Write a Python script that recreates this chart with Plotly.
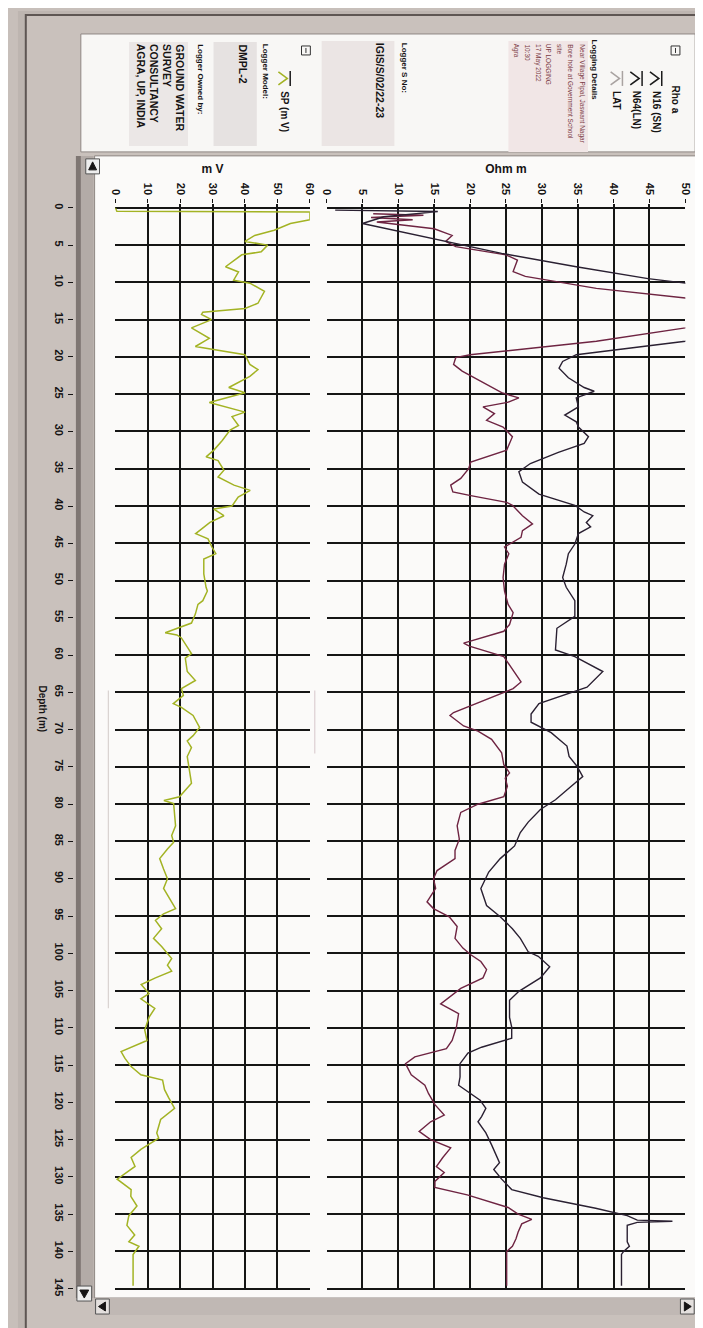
import plotly.graph_objects as go

W, H = 703, 1328

# ---------------- data ----------------
sp_depth = [0.0, 0.45, 0.55, 1.6, 2.1, 3.0, 3.7, 4.5, 5.0, 5.9, 6.3, 7.9, 8.6, 9.7, 10.1, 11.2, 12.8, 13.5,
            14.0, 14.3, 15.0, 16.1, 17.5, 18.6, 19.7, 21.0, 21.7, 22.6, 24.1, 24.8, 26.1, 27.4, 28.0, 29.2,
            29.8, 31.2, 32.5, 33.4, 33.9, 35.2, 36.1, 37.2, 37.9, 38.8, 40.0, 40.4, 41.3, 42.2, 43.7, 44.4,
            45.5, 46.4, 47.1, 49.1, 50.9, 51.4, 52.7, 53.2, 54.5, 55.7, 57.0, 57.3, 57.7, 59.8, 60.4, 62.2,
            63.4, 64.5, 65.4, 66.5, 67.0, 68.1, 69.7, 70.8, 71.5, 72.4, 73.6, 75.4, 77.2, 79.0, 79.5, 79.9,
            82.9, 84.2, 85.1, 86.0, 87.3, 88.7, 90.0, 91.3, 92.7, 94.0, 94.7, 95.6, 96.7, 98.0, 99.1, 100.7,
            101.6, 102.4, 103.3, 104.2, 105.4, 106.1, 107.4, 108.6, 110.3, 111.7, 113.2, 114.1, 115.2, 116.3,
            117.0, 118.3, 119.4, 120.8, 122.3, 124.1, 124.8, 126.3, 127.4, 128.6, 130.3, 131.7, 132.6, 133.9,
            135.2, 136.5, 137.8, 138.7, 139.3, 140.4, 144.6]
sp_mv = [0.0, 0.5, 60.0, 60.0, 54.0, 49.0, 43.0, 40.0, 47.0, 45.0, 39.0, 34.0, 38.0, 36.5, 41.5, 46.0, 44.0, 40.0,
         27.0, 26.6, 29.7, 23.5, 29.0, 24.7, 40.0, 41.5, 44.0, 41.5, 35.0, 40.0, 29.0, 40.0, 36.0, 38.0,
         35.4, 33.0, 30.4, 28.0, 31.7, 33.5, 31.7, 36.6, 41.6, 37.9, 36.0, 30.4, 33.5, 29.2, 24.8, 28.6,
         29.8, 31.0, 27.3, 27.3, 28.0, 28.4, 27.0, 25.5, 24.7, 23.5, 15.4, 19.0, 20.4, 23.5, 21.6, 22.2,
         24.7, 20.4, 21.0, 17.9, 20.4, 24.0, 26.0, 24.0, 22.2, 23.5, 22.2, 22.8, 23.5, 19.8, 15.0, 18.0,
         18.6, 17.4, 18.0, 16.1, 13.7, 14.9, 16.1, 14.9, 16.8, 18.6, 14.9, 12.4, 14.3, 11.8, 14.3, 17.4,
         16.1, 17.4, 12.4, 8.0, 10.4, 7.9, 12.2, 10.4, 9.1, 9.8, 1.8, 3.0, 4.9, 7.9,
         14.6, 15.2, 16.5, 18.3, 14.0, 12.8, 13.4, 7.9, 4.9, 6.1, 0.6, 4.9, 4.8, 6.7,
         4.2, 3.6, 6.0, 4.2, 7.3, 5.5, 5.5]

n16_depth = [0.8, 1.0, 1.3, 1.6, 1.9, 2.8, 3.7, 4.5, 5.2, 6.3, 7.0, 8.55, 9.2, 10.8, 12.1, 14.0, 16.1, 17.9,
             19.7, 20.1, 21.0, 21.9, 24.8, 25.5, 26.1, 26.7, 27.6, 28.5, 29.4, 30.7, 32.5, 34.1, 35.0, 36.3,
             37.2, 38.1, 38.6, 39.5, 39.9, 41.3, 42.4, 43.3, 44.2, 45.5, 46.4, 47.8, 49.6, 51.4, 53.2, 54.3,
             55.9, 56.8, 58.4, 58.8, 60.2, 63.6, 64.5, 66.3, 67.7, 68.1, 69.5, 70.2, 71.3, 73.1, 74.7, 75.8,
             76.5, 77.6, 79.0, 80.0, 81.1, 82.9, 84.7, 86.2, 87.3, 88.9, 90.0, 91.3, 93.1, 94.0, 95.1, 96.4,
             98.0, 99.3, 100.2, 101.1, 102.2, 103.3, 104.7, 106.8, 108.1, 109.9, 111.7, 112.8, 113.9, 114.8,
             116.3, 117.7, 118.8, 120.3, 121.7, 122.6, 123.9, 125.0, 126.1, 127.4, 128.6, 129.4, 130.6, 131.4,
             132.4, 134.1, 135.0, 135.7, 136.3, 137.4, 138.3, 139.3, 140.0, 144.6]
n16_ohm = [6.5, 13.5, 6.2, 12.0, 7.0, 15.0, 17.5, 16.6, 18.0, 25.0, 26.6, 26.0, 27.7, 37.6, 50.0, 62.0, 50.0, 37.6,
           20.0, 18.0, 17.7, 18.9, 24.4, 26.8, 25.2, 21.8, 23.4, 22.3, 24.6, 25.9, 25.1, 20.1, 19.8, 18.7,
           17.3, 17.6, 20.1, 25.1, 25.9, 27.3, 28.7, 27.3, 27.1, 24.8, 25.4, 24.8, 24.6, 24.8, 25.3, 26.0,
           25.5, 24.7, 19.1, 19.9, 24.7, 27.1, 26.0, 21.3, 17.7, 17.2, 19.1, 21.1, 23.0, 24.4, 24.7, 25.5,
           24.9, 25.2, 24.7, 21.1, 18.7, 18.2, 18.5, 17.9, 17.9, 15.4, 14.9, 15.2, 14.0, 14.9, 17.1, 18.2,
           17.9, 19.0, 20.1, 21.5, 22.3, 21.8, 18.7, 15.9, 18.4, 18.1, 17.5, 16.7, 12.3, 11.0,
           11.8, 13.7, 14.2, 15.1, 16.4, 14.5, 12.9, 14.5, 17.3, 16.2, 15.3, 16.4, 15.1, 15.1,
           19.6, 25.3, 26.7, 28.6, 27.2, 26.7, 26.4, 25.9, 25.1, 25.1]

n64_depth = [0.3, 0.5, 1.2, 2.1, 6.1, 7.9, 9.5, 10.1, 14.0, 17.9, 19.7, 20.6, 21.5, 22.8, 24.1, 24.6, 25.5, 26.7,
             27.8, 28.7, 29.4, 30.7, 31.6, 32.8, 34.3, 35.4, 36.8, 38.4, 39.9, 40.8, 41.3, 42.2, 42.8, 43.7,
             45.1, 46.4, 47.8, 49.6, 50.9, 52.7, 54.8, 56.4, 59.3, 60.2, 62.2, 64.3, 66.5, 67.9, 69.0, 70.4,
             72.2, 73.6, 74.9, 76.3, 77.6, 79.4, 80.7, 82.4, 83.8, 85.6, 87.3, 89.1, 91.3, 93.6, 95.1, 96.7,
             98.0, 99.8, 100.4, 101.8, 103.3, 105.1, 106.3, 108.6, 109.9, 111.4, 112.6, 113.4, 114.8, 116.6,
             117.7, 118.6, 119.7, 120.8, 121.9, 122.6, 124.1, 125.7, 128.1, 129.0, 130.3, 131.7, 132.8, 134.2,
             135.2, 135.8, 135.95, 136.1, 136.5, 138.7, 139.3, 140.0, 140.4, 144.6]
n64_ohm = [1.2, 15.5, 8.0, 5.0, 24.4, 34.8, 44.8, 50.0, 65.0, 50.0, 34.8, 32.9, 32.4, 33.7, 35.9, 37.3, 34.8, 35.1,
           33.2, 34.8, 35.1, 36.5, 35.9, 32.3, 28.4, 26.8, 27.3, 29.6, 34.6, 35.9, 37.1, 36.2, 36.8, 35.1,
           34.6, 33.7, 33.4, 32.9, 33.4, 34.6, 34.6, 32.1, 31.9, 34.6, 38.5, 36.3, 29.6, 28.5, 28.5, 31.3,
           33.5, 33.8, 34.9, 35.7, 34.1, 31.9, 29.8, 28.1, 27.0, 26.2, 24.2, 22.6, 21.5, 22.3, 24.2, 25.9,
           27.0, 28.1, 29.5, 31.1, 29.8, 26.8, 25.5, 25.5, 25.8, 25.8, 21.6, 19.7, 18.6, 18.6,
           18.4, 19.7, 21.4, 22.2, 21.6, 21.1, 22.2, 23.0, 24.1, 23.3, 24.4, 25.8, 30.2, 37.5,
           41.9, 43.3, 48.2, 43.3, 41.9, 41.9, 42.2, 41.4, 41.1, 41.1]

depth_ticks = [0, 5, 10, 15, 20, 25, 30, 35, 40, 45, 50, 55, 60, 65, 70, 75, 80, 85, 90, 95, 100,
               105, 110, 115, 120, 125, 130, 135, 140, 145]
sp_ticks = [0, 10, 20, 30, 40, 50, 60]
res_ticks = [0, 5, 10, 15, 20, 25, 30, 35, 40, 45, 50]

# ---------------- helpers for layout positions ----------------
def fx(p):
    return p / W

def fy(p):
    return 1 - p / H

PX0 = 199.0      # pixel row of depth 0
PXM = 7.46       # pixels per metre

def drange(top_px, bot_px):
    return [(bot_px - PX0) / PXM, (top_px - PX0) / PXM]

FONT = "Liberation Sans"
INK = "#161414"

fig = go.Figure()
fig.add_trace(go.Scatter(x=sp_mv, y=sp_depth, xaxis="x", yaxis="y", mode="lines",
                         line=dict(color="#a3b324", width=1.5), name="SP (m V)", showlegend=False))
fig.add_trace(go.Scatter(x=n16_ohm, y=n16_depth, xaxis="x2", yaxis="y2", mode="lines",
                         line=dict(color="#6e2442", width=1.4), name="N16 (SN)", showlegend=False))
fig.add_trace(go.Scatter(x=n64_ohm, y=n64_depth, xaxis="x2", yaxis="y2", mode="lines",
                         line=dict(color="#2a2032", width=1.4), name="N64(LN)", showlegend=False))
fig.add_trace(go.Scatter(x=[None], y=[None], xaxis="x3", yaxis="y3", mode="lines", showlegend=False,
                         hoverinfo="skip"))

tickfont = dict(family=FONT, size=11, color=INK, weight="bold")
grid_c = "#151515"

common_x = dict(side="top", tickangle=90, ticks="outside", ticklen=4, tickwidth=1.3, tickcolor=INK,
                tickfont=tickfont, showgrid=False, zeroline=False, showline=False, fixedrange=True)

fig.update_layout(
    width=W, height=H, margin=dict(l=0, r=0, t=0, b=0),
    paper_bgcolor="#c7bfba", plot_bgcolor="rgba(0,0,0,0)",
    xaxis=dict(domain=[fx(103), fx(301)], range=[0, 60], anchor="y", tickmode="array",
               tickvals=sp_ticks, ticktext=[str(v) for v in sp_ticks],
               title=dict(text="m V", font=dict(family=FONT, size=12, color=INK, weight="bold"), standoff=6),
               minor=dict(tickmode="array", tickvals=sp_ticks[1:], showgrid=True, gridcolor=grid_c,
                          gridwidth=2, ticks=""),
               **common_x),
    xaxis2=dict(domain=[fx(318), fx(683)], range=[0, 50], anchor="y2", tickmode="array",
                tickvals=res_ticks, ticktext=[str(v) for v in res_ticks],
                title=dict(text="Ohm m", font=dict(family=FONT, size=12, color=INK, weight="bold"), standoff=6),
                minor=dict(tickmode="array", tickvals=res_ticks[1:], showgrid=True, gridcolor=grid_c,
                           gridwidth=2, ticks=""),
                **common_x),
    xaxis3=dict(domain=[0, 0.05], range=[0, 1], anchor="y3", visible=False, fixedrange=True),
    yaxis=dict(domain=[fy(1282), fy(195)], range=drange(195, 1282), anchor="x", tickmode="array",
               tickvals=depth_ticks, showticklabels=False, ticks="", showgrid=True, gridcolor=grid_c,
               gridwidth=2, zeroline=False, showline=False, fixedrange=True),
    yaxis2=dict(domain=[fy(1282), fy(195)], range=drange(195, 1282), anchor="x2", tickmode="array",
                tickvals=depth_ticks, showticklabels=False, ticks="", showgrid=True, gridcolor=grid_c,
                gridwidth=2, zeroline=False, showline=False, fixedrange=True),
    yaxis3=dict(domain=[fy(1292), fy(195)], range=drange(195, 1292), anchor="free", position=fx(60),
                side="left", tickmode="array", tickvals=depth_ticks, ticktext=[str(v) for v in depth_ticks],
                tickangle=90, ticks="outside", ticklen=5, tickwidth=1.3, tickcolor=INK,
                tickfont=tickfont, showgrid=False, zeroline=False, showline=False, fixedrange=True),
)

shapes = []

def rect(x0, y0, x1, y1, fill, line=None, lw=1, layer="below"):
    shapes.append(dict(type="rect", xref="paper", yref="paper", x0=fx(x0), x1=fx(x1), y0=fy(y1), y1=fy(y0),
                       fillcolor=fill, line=dict(color=line or "rgba(0,0,0,0)", width=lw if line else 0),
                       layer=layer))

def seg(x0, y0, x1, y1, color, lw=1, layer="above"):
    shapes.append(dict(type="line", xref="paper", yref="paper", x0=fx(x0), x1=fx(x1), y0=fy(y0), y1=fy(y1),
                       line=dict(color=color, width=lw), layer=layer))

def path(pts, color, lw=1.4, fill=None, closed=False):
    d = "M " + " L ".join(f"{fx(a):.5f},{fy(b):.5f}" for a, b in pts)
    if closed:
        d += " Z"
    shapes.append(dict(type="path", xref="paper", yref="paper", path=d,
                       line=dict(color=color, width=lw), fillcolor=fill or "rgba(0,0,0,0)", layer="above"))

# photo / window frame
rect(4, 2, 701, 1326, "#bdb5b0")
rect(12, 6, 699, 1321, "#c9c1bc", "#5e5653", 2)
# legend panel
rect(68, 25, 693, 143, "#f8f7f5", "#8f8784", 1)
# plot panel
rect(82, 147, 695, 1290, "#fbfaf9", "#8f8784", 1)
# faint cursor lines
seg(96, 682, 96, 1000, "#d9d3d1", 1.2, layer="below")
seg(306, 682, 306, 745, "#dccfd2", 1.2, layer="below")
# vertical scrollbar
rect(63, 147, 81, 1290, "#b3aba7")
rect(63, 147, 68, 1290, "#7f7773")
# bottom scrollbar
rect(82, 1290, 695, 1307, "#c0b8b4")
# scroll buttons
rect(73, 150, 87, 165, "#eeeeee", "#555", 1, layer="above")
path([(76, 161), (80, 153), (84, 161)], INK, 1, fill=INK, closed=True)
rect(64, 1278, 79, 1293, "#eeeeee", "#555", 1, layer="above")
path([(67, 1282), (71.5, 1290), (76, 1282)], INK, 1, fill=INK, closed=True)
rect(83, 1291, 97, 1306, "#e4e0de", "#555", 1, layer="above")
path([(93, 1294), (86, 1298.5), (93, 1303)], INK, 1, fill=INK, closed=True)
rect(678, 1291, 692, 1306, "#e4e0de", "#555", 1, layer="above")
path([(682, 1294), (689, 1298.5), (682, 1303)], INK, 1, fill=INK, closed=True)

# legend shaded boxes
rect(503, 32, 584, 143, "#f1e6e6")
rect(313, 32, 387, 137, "#ebe5e4")
rect(203, 33, 247, 137, "#e6e2e1")
rect(117, 33, 177, 137, "#ebe7e6")

# collapse boxes
for cx in (673, 297):
    rect(cx - 4.5, 37, cx + 4.5, 46, "rgba(0,0,0,0)", "#333", 1, layer="above")
    seg(cx, 39, cx, 44, "#333", 1)

# legend icons (rotated line symbol)
def icon(cx, color, bar="#1b1b1b"):
    path([(cx + 6, 62), (cx + 6, 77)], bar, 1.5)
    path([(cx - 6, 63), (cx + 3, 69.5), (cx - 6, 76)], color, 1.6)

icon(653, "#1b1b1b")
icon(633, "#1b1b1b")
icon(613, "#a9a3a1", bar="#a9a3a1")
icon(275, "#a3b324")

fig.update_layout(shapes=shapes)

ann = []

def rtext(txt, xc, ytop, size, bold=False, color=INK, angle=90):
    ann.append(dict(text=txt, x=fx(xc), y=fy(ytop), xref="paper", yref="paper", xanchor="center",
                    yanchor="top", textangle=angle, showarrow=False,
                    font=dict(family=FONT, size=size, color=color, weight="bold" if bold else "normal")))

rtext("Rho a", 673, 74, 10, True)
rtext("N16 (SN)", 653, 80, 10, True)
rtext("N64(LN)", 633, 80, 10, True)
rtext("LAT", 613, 80, 10, True)
rtext("Logging Details", 591, 29, 8, True)
details = ["Near Village Pipal, Jaswant Nagar", "Bore hole at Government School", "site",
           "UP LOGGING", "17 May 2022", "10:30", "Agra"]
for i, t in enumerate(details):
    rtext(t, 577 - i * 11, 33, 6.5, False, "#7a3a44")
rtext("Logger S No:", 397, 32, 8, True)
rtext("IGIS/S/02/22-23", 372, 32, 10.5, True)
rtext("SP (m V)", 275, 80, 10, True)
rtext("Logger Model:", 256, 33, 8, True)
rtext("DMPL-2", 233, 33, 10.5, True)
rtext("Logger Owned by:", 189, 33, 8, True)
for i, t in enumerate(["GROUND WATER", "SURVEY", "CONSULTANCY", "AGRA, UP, INDIA"]):
    rtext(t, 168 - i * 13, 33, 10.5, True)
rtext("Depth (m)", 28, 675, 10, True)

fig.update_layout(annotations=ann)

fig.write_html("out.html")
